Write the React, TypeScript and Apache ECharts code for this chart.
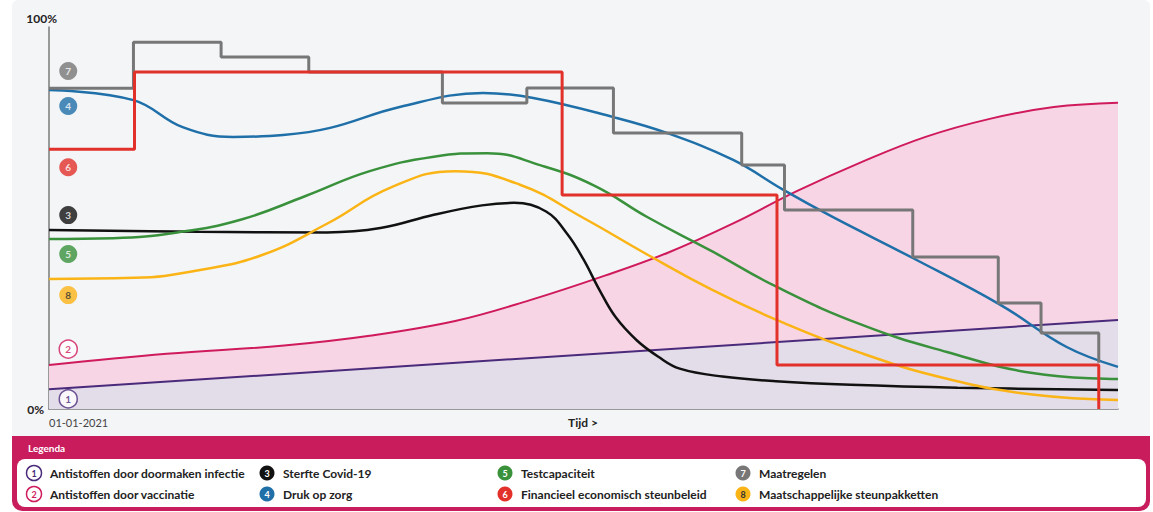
import React, { useEffect, useRef } from 'react';
import * as echarts from 'echarts';

// ---- legend / series identity ----
const seriesNumbers = ['1', '2', '3', '4', '5', '6', '7', '8'];
const seriesNames = [
  'Antistoffen door doormaken infectie',
  'Antistoffen door vaccinatie',
  'Sterfte Covid-19',
  'Druk op zorg',
  'Testcapaciteit',
  'Financieel economisch steunbeleid',
  'Maatregelen',
  'Maatschappelijke steunpakketten',
];
const seriesColors = ['#4a2a7a', '#cf1a5c', '#111111', '#1f6fa8', '#3a913c', '#e2312b', '#777777', '#fbb416'];
const outlinedBadge = [true, true, false, false, false, false, false, false];
const badgeTextDark = [false, false, false, false, false, false, false, true];

// ---- series values (x: 0..100 of time span, y: percent) ----
const infectieX = [0, 100];
const infectieY = [5.5, 24.7];

const vaccinatieX = [0, 11, 22, 30, 38, 45, 52, 58, 64, 70, 76, 82, 88, 94, 100];
const vaccinatieY = [12.2, 15.3, 17.6, 20.3, 24.4, 30.2, 37, 43.5, 51.5, 60.5, 68.5, 75.5, 80.5, 83.8, 85];

const sterfteX = [0, 14, 26, 31, 36, 40.5, 43.5, 46.5, 48.5, 50, 51.5, 53, 55, 57, 59, 63, 68, 75, 85, 100];
const sterfteY = [49.7, 49.2, 49.0, 50.2, 53.9, 56.5, 57.2, 54.8, 48.5, 41.5, 33.0, 25.5, 19.0, 14.5, 11.2, 9.0, 7.7, 6.7, 5.9, 5.3];

const zorgX = [0, 7.9, 12.5, 17.2, 21.9, 26.3, 32.8, 40.6, 45.3, 52.8, 57.8, 64.0, 68.7, 73.3, 80.8, 89.0, 95.2, 100];
const zorgY = [88.5, 85.7, 78.2, 75.5, 76.0, 78.0, 83.8, 87.7, 86.3, 81.0, 76.6, 69.1, 60.8, 53.3, 41.9, 28.9, 17.2, 11.7];

const testX = [0, 6, 12, 18, 24, 30, 36, 41, 46, 51, 56, 62, 68, 76, 84, 92, 100];
const testY = [47.2, 47.4, 49.0, 52.6, 59.1, 66.0, 70.0, 71.0, 67.6, 62.0, 53.2, 43.8, 34.0, 23.4, 15.8, 10.0, 8.3];

const steunbeleidX = [0, 8.0, 48.0, 68.1, 98.2];
const steunbeleidY = [72.1, 93.5, 59.4, 12.2, 0];

const maatregelenX = [0, 7.9, 16.1, 24.3, 36.8, 44.7, 52.8, 64.8, 68.8, 80.8, 88.8, 92.8, 98.2];
const maatregelenY = [89.0, 101.8, 97.7, 93.5, 84.9, 89.1, 76.6, 67.7, 55.2, 42.2, 29.4, 21.1, 12.8];

const pakkettenX = [0, 8, 14, 20, 26, 32, 38, 44, 50, 56, 62, 68, 76, 84, 92, 100];
const pakkettenY = [36.1, 36.4, 38.5, 42.8, 51.4, 61.5, 66.0, 62.3, 53.0, 42.8, 33.1, 24.8, 15.5, 8.4, 4.0, 2.5];

// badges placed on the left of the chart (number, y value)
const badgeOrder = ['7', '4', '6', '3', '5', '8', '2', '1'];
const badgeY = [93.8, 84.1, 67.1, 53.8, 43.0, 31.6, 16.6, 2.8];
const badgeX = 1.8;

const endLabel = '85%';
const xLabelStart = '01-01-2021';
const xName = 'Tijd >';

const pts = (xs: number[], ys: number[]) => xs.map((x, i) => [x, ys[i]]);

export default function App() {
  const ref = useRef<HTMLDivElement>(null);
  useEffect(() => {
    if (!ref.current) return;
    const chart = echarts.init(ref.current, null, { renderer: 'svg' });
    const font = 'Lato, "Open Sans", sans-serif';

    const vacData: any[] = pts(vaccinatieX, vaccinatieY);
    const last = vacData.length - 1;
    vacData[last] = {
      value: vacData[last],
      label: {
        show: true, formatter: endLabel, position: 'top', offset: [9, 2],
        color: '#222', fontSize: 12, fontWeight: 'bold', fontFamily: font,
      },
    };

    const line = (idx: number, data: any[], z: number, width: number, extra: any = {}) => ({
      type: 'line', name: seriesNames[idx], data, z, showSymbol: false, symbol: 'none',
      lineStyle: { color: seriesColors[idx], width }, itemStyle: { color: seriesColors[idx] },
      silent: true, ...extra,
    });

    const badgeData = badgeOrder.map((n, i) => {
      const idx = seriesNumbers.indexOf(n);
      const outl = outlinedBadge[idx];
      return {
        value: [badgeX, badgeY[i]], name: n,
        itemStyle: {
          color: outl ? '#ffffff' : seriesColors[idx],
          borderColor: seriesColors[idx], borderWidth: outl ? 1.5 : 0,
        },
        label: { color: outl ? seriesColors[idx] : badgeTextDark[idx] ? '#333' : '#fff' },
      };
    });

    const legendCols = [34, 267, 505, 743];
    const legendRows = [473, 494];
    const legendEls: any[] = [];
    seriesNumbers.forEach((n, i) => {
      const cx = legendCols[Math.floor(i / 2)];
      const cy = legendRows[i % 2];
      const outl = outlinedBadge[i];
      legendEls.push({
        type: 'circle', shape: { cx, cy, r: 7.5 },
        style: { fill: outl ? '#fff' : seriesColors[i], stroke: seriesColors[i], lineWidth: outl ? 1.5 : 0 },
      });
      legendEls.push({
        type: 'text', x: cx, y: cy,
        style: {
          text: n, fill: outl ? seriesColors[i] : badgeTextDark[i] ? '#333' : '#fff',
          fontSize: 9, fontWeight: 'bold', fontFamily: font, align: 'center', verticalAlign: 'middle',
        },
      });
      legendEls.push({
        type: 'text', x: cx + 16, y: cy,
        style: {
          text: seriesNames[i], fill: '#222', fontSize: 12, fontWeight: 'bold', fontFamily: font,
          align: 'left', verticalAlign: 'middle',
        },
      });
    });

    chart.setOption({
      animation: false,
      backgroundColor: '#ffffff',
      grid: { left: 49, right: 35, top: 27, bottom: 103, containLabel: false },
      xAxis: {
        type: 'value', min: 0, max: 100, interval: 100,
        axisLine: { show: true, lineStyle: { color: '#7a7a7a', width: 1.5 } },
        axisTick: { show: false }, splitLine: { show: false },
        axisLabel: {
          formatter: (v: number) => (v === 0 ? xLabelStart : ''), align: 'left', margin: 8,
          fontSize: 11, color: '#444', fontFamily: font,
        },
      },
      yAxis: {
        type: 'value', min: 0, max: 106, interval: 106,
        axisLine: { show: true, lineStyle: { color: '#7a7a7a', width: 1.5 } },
        axisTick: { show: false }, splitLine: { show: false },
        axisLabel: {
          formatter: (v: number) => (v === 0 ? '0%' : ''), margin: 5,
          fontSize: 12, fontWeight: 'bold', color: '#222', fontFamily: font,
        },
      },
      graphic: [
        { type: 'rect', z: -10, shape: { x: 12, y: 0, width: 1138, height: 442, r: [6, 6, 0, 0] }, style: { fill: '#f3f5f7' } },
        { type: 'text', x: 57, y: 18, style: { text: '100%', fill: '#222', fontSize: 12, fontWeight: 'bold', fontFamily: font, align: 'right', verticalAlign: 'middle' } },
        { type: 'text', x: 583, y: 422, style: { text: xName, fill: '#222', fontSize: 12, fontWeight: 'bold', fontFamily: font, align: 'center', verticalAlign: 'middle' } },
        { type: 'rect', shape: { x: 12, y: 436, width: 1138, height: 75, r: [0, 0, 10, 10] }, style: { fill: '#c81c5d' } },
        { type: 'text', x: 28, y: 448, style: { text: 'Legenda', fill: '#fff', fontSize: 10, fontWeight: 'bold', fontFamily: font, verticalAlign: 'middle' } },
        { type: 'rect', shape: { x: 17, y: 459, width: 1129, height: 48, r: 8 }, style: { fill: '#ffffff' } },
        ...legendEls,
      ],
      series: [
        line(1, vacData, 1, 2, { smooth: 0.4, areaStyle: { color: '#f7d5e5', opacity: 1 } }),
        line(0, pts(infectieX, infectieY), 2, 2, { areaStyle: { color: '#e3dce9', opacity: 1 } }),
        line(2, pts(sterfteX, sterfteY), 3, 2.5, { smooth: 0.4 }),
        line(7, pts(pakkettenX, pakkettenY), 4, 2.5, { smooth: 0.45 }),
        line(4, pts(testX, testY), 5, 2.5, { smooth: 0.45 }),
        line(3, pts(zorgX, zorgY), 6, 2.5, { smooth: 0.4 }),
        line(6, pts(maatregelenX, maatregelenY), 7, 3, { step: 'end' }),
        line(5, pts(steunbeleidX, steunbeleidY), 8, 3, { step: 'end' }),
        {
          type: 'scatter', z: 10, symbol: 'circle', symbolSize: 18, silent: true,
          data: badgeData,
          label: { show: true, position: 'inside', formatter: '{b}', fontSize: 10, fontWeight: 'bold', fontFamily: font },
        },
      ],
    });
    return () => chart.dispose();
  }, []);
  return <div ref={ref} style={{ position: 'fixed', left: 0, top: 0, width: 1153, height: 512 }} />;
}
